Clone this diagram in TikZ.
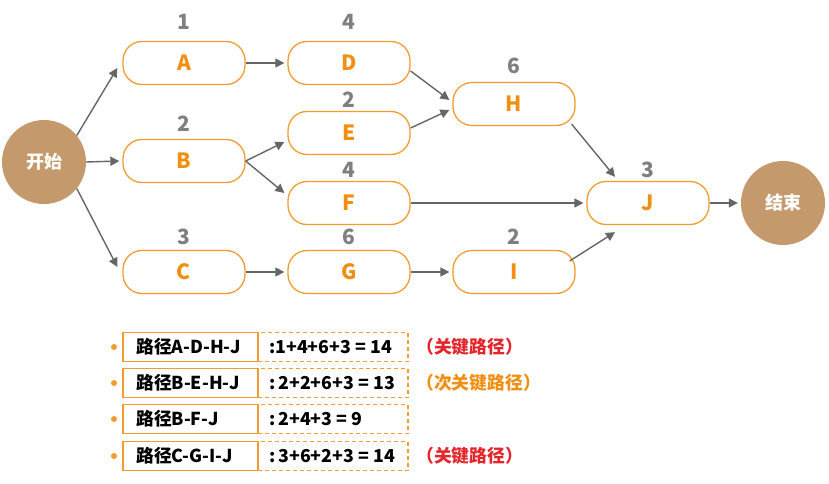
\documentclass[tikz,border=0pt]{standalone}
\usepackage{fontspec}
\setmainfont{Noto Sans CJK SC}
\usetikzlibrary{arrows.meta}
\definecolor{boxor}{HTML}{F39B2F}
\definecolor{txtor}{HTML}{F18F12}
\definecolor{numgray}{HTML}{7F7F7F}
\definecolor{arrgray}{HTML}{666666}
\definecolor{circ}{HTML}{C49A6C}
\definecolor{critred}{HTML}{E3262B}
\tikzset{
  task/.style={draw=boxor, line width=1.3pt, rounded corners=19pt, minimum width=122pt, minimum height=43pt, inner sep=0pt, text=txtor, font=\bfseries\fontsize{21}{21}\selectfont},
  ends/.style={circle, fill=circ, minimum size=84pt, inner sep=0pt, text=white, font=\bfseries\fontsize{18}{18}\selectfont},
  dur/.style={text=numgray, font=\bfseries\fontsize{21}{21}\selectfont, inner sep=0pt},
  conn/.style={draw=arrgray, line width=1.4pt, -{Triangle[length=9pt,width=9pt]}},
  pathbox/.style={draw=boxor, line width=1.1pt, minimum height=29pt, inner sep=0pt},
  sumbox/.style={draw=boxor, line width=1.1pt, dashed, dash pattern=on 4pt off 3pt, minimum height=29pt, inner sep=0pt},
  ltxt/.style={anchor=west, inner sep=0pt, font=\bfseries\fontsize{17.8}{17.8}\selectfont, text=black},
  dot/.style={circle, fill=boxor, minimum size=6pt, inner sep=0pt},
}
\begin{document}
\begin{tikzpicture}[x=1pt, y=-1pt]
\useasboundingbox (0,0) rectangle (829,484);
% nodes
\node[ends] (s) at (44,162) {开始};
\node[ends] (e) at (783,203) {结束};
\node[task] (A) at (184,63) {A};
\node[task] (B) at (184,161) {B};
\node[task] (C) at (184,272) {C};
\node[task] (D) at (349,63) {D};
\node[task] (E) at (349,133) {E};
\node[task] (F) at (349,203) {F};
\node[task] (G) at (349,272) {G};
\node[task] (H) at (514,104) {H};
\node[task] (I) at (514,272) {I};
\node[task] (J) at (648,203) {J};
% durations
\node[dur] (nA) at (184,22) {1};
\node[dur] (nB) at (184,124) {2};
\node[dur] (nC) at (184,237) {3};
\node[dur] (nD) at (349,22) {4};
\node[dur] (nE) at (349,100) {2};
\node[dur] (nF) at (349,170) {4};
\node[dur] (nG) at (349,237) {6};
\node[dur] (nH) at (514,66) {6};
\node[dur] (nI) at (514,237) {2};
\node[dur] (nJ) at (648,170) {3};
% connectors
\draw[conn] (s.39) -- ([shift={(-5,5)}]A.west);
\draw[conn] (s.east) -- ([xshift=-3pt]B.west);
\draw[conn] (s.-39) -- ([shift={(-5,-5)}]C.west);
\draw[conn] (A.east) -- ([xshift=-3pt]D.west);
\draw[conn] (B.east) -- ([shift={(-3,9)}]E.west);
\draw[conn] (B.east) -- ([shift={(-3,-10)}]F.west);
\draw[conn] ([shift={(0,8)}]D.east) -- ([shift={(-3,-4)}]H.west);
\draw[conn] ([shift={(0,-5)}]E.east) -- ([shift={(-3,6)}]H.west);
\draw[conn] (F.east) -- ([xshift=-3pt]J.west);
\draw[conn] (C.east) -- ([xshift=-3pt]G.west);
\draw[conn] (G.east) -- ([xshift=-3pt]I.west);
\draw[conn] ([shift={(-4,-2)}]H.south east) -- ([shift={(-33,-4)}]J.north);
\draw[conn] ([shift={(-6,-11)}]I.east) -- ([shift={(-33,7)}]J.south);
\draw[conn] (J.east) -- ([xshift=-3pt]e.west);
% path list
\foreach \i/\yy in {1/347,2/383,3/419,4/456}{
  \node[dot] (b\i) at (114,\yy) {};
  \node[pathbox, minimum width=135pt] (p\i) at (190.5,\yy) {};
  \node[sumbox, minimum width=150pt] (q\i) at (333,\yy) {};
}
\node[ltxt] (t1) at (136,347) {路径A-D-H-J};
\node[ltxt] (t2) at (136,383) {路径B-E-H-J};
\node[ltxt] (t3) at (136,419) {路径B-F-J};
\node[ltxt] (t4) at (136,456) {路径C-G-I-J};
\node[ltxt] (s1) at (269,347) {:1+4+6+3 = 14};
\node[ltxt] (s2) at (269,383) {:\,2+2+6+3 = 13};
\node[ltxt] (s3) at (269,419) {:\,2+4+3 = 9};
\node[ltxt] (s4) at (269,456) {:\,3+6+2+3 = 14};
\node[ltxt, text=critred] (r1) at (416,347) {（关键路径）};
\node[ltxt, text=txtor] (r2) at (416,383) {（次关键路径）};
\node[ltxt, text=critred] (r4) at (416,456) {（关键路径）};
\end{tikzpicture}
\end{document}
